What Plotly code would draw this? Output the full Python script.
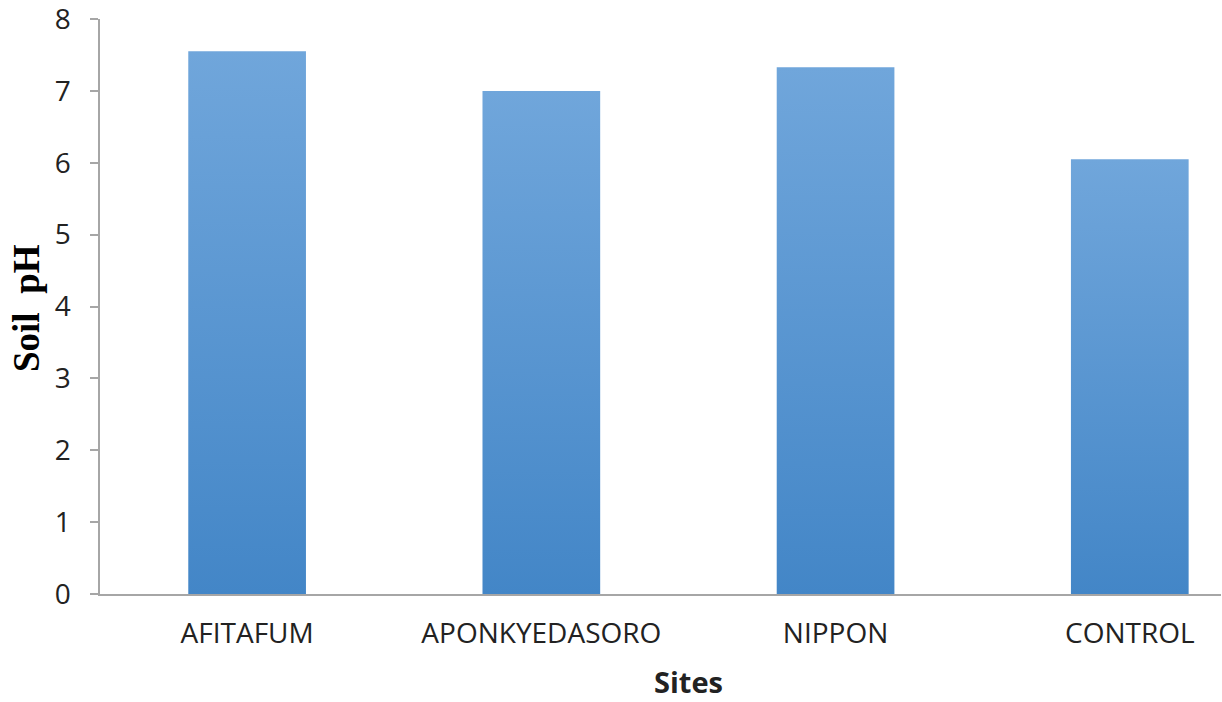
import plotly.graph_objects as go

sites = ["AFITAFUM", "APONKYEDASORO", "NIPPON", "CONTROL"]
soil_ph = [7.55, 7.0, 7.33, 6.05]
y_ticks = [0, 1, 2, 3, 4, 5, 6, 7, 8]

BAR_W = 0.4
fig = go.Figure()
for i, v in enumerate(soil_ph):
    x0, x1 = i - BAR_W / 2, i + BAR_W / 2
    fig.add_trace(go.Scatter(
        x=[x0, x1, x1, x0, x0], y=[0, 0, v, v, 0],
        mode="lines", line=dict(width=0), fill="toself",
        fillgradient=dict(type="vertical",
                          colorscale=[[0, "#4386C7"], [1, "#70A6DB"]]),
        hoverinfo="text", text=f"{sites[i]}: {v}", showlegend=False,
    ))

fig.update_layout(
    width=1222, height=702,
    margin=dict(l=100, r=1, t=19, b=108, autoexpand=False),
    paper_bgcolor="white", plot_bgcolor="white",
    font=dict(family="Open Sans", color="#222222"),
    xaxis=dict(
        range=[-0.5, 3.31], tickvals=list(range(len(sites))), ticktext=sites,
        showline=True, linecolor="#A6A6A6", linewidth=1.5,
        ticks="", showgrid=False, zeroline=False, automargin=False,
        tickfont=dict(size=28, family="Open Sans", color="#222222"),
        ticklabelstandoff=14,
    ),
    yaxis=dict(
        range=[0, 8], tickvals=y_ticks,
        showline=True, linecolor="#A6A6A6", linewidth=1.5,
        ticks="outside", ticklen=8, tickcolor="#A6A6A6", tickwidth=1.5,
        showgrid=False, zeroline=False, automargin=False,
        tickfont=dict(size=28, family="Open Sans", color="#222222"),
        ticklabelstandoff=14, ticklabeloverflow="allow",
    ),
    annotations=[
        dict(text="<b>Sites</b>", xref="paper", yref="paper",
             x=(688 - 100) / 1121, y=-(681 - 594) / 575,
             xanchor="center", yanchor="middle", showarrow=False,
             font=dict(size=29, family="Open Sans", color="#222222")),
        dict(text="<b>Soil\u00a0\u00a0pH</b>", xref="paper", yref="paper",
             x=(26 - 100) / 1121, y=(594 - 308) / 575, textangle=-90,
             xanchor="center", yanchor="middle", showarrow=False,
             font=dict(size=37, family="Liberation Serif", color="#000000")),
    ],
)

fig.write_html("out.html")
